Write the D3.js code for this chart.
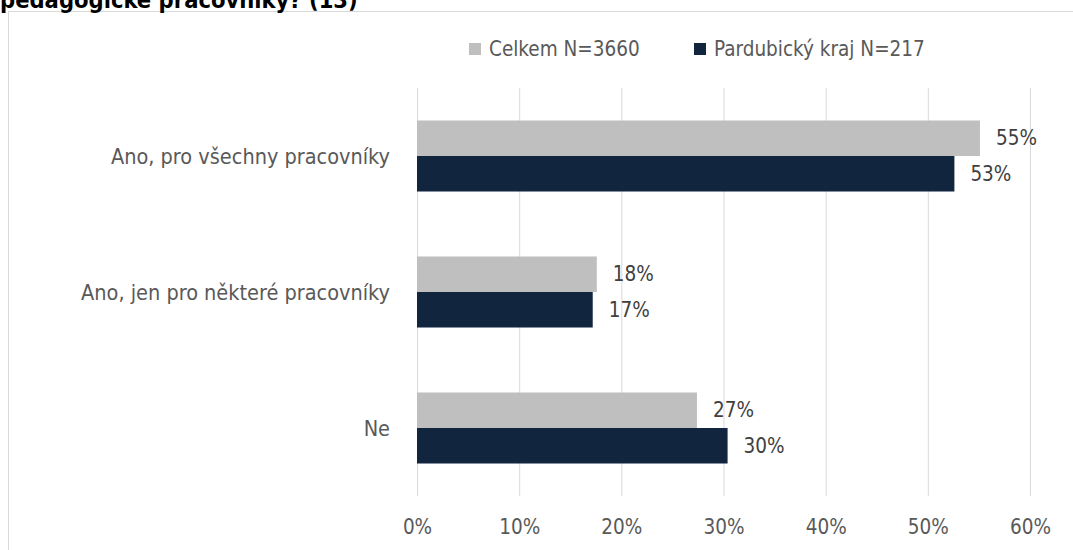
<!DOCTYPE html>
<html><head><meta charset="utf-8">
<script src="https://cdn.jsdelivr.net/npm/d3@7"></script>
<style>body{margin:0;background:#fff;} svg{display:block;}</style>
</head><body><svg id="c" width="1073" height="550"></svg>
<script>
const titleText = "pedagogické pracovníky? (13)";
const categories = ["Ano, pro všechny pracovníky", "Ano, jen pro některé pracovníky", "Ne"];
const seriesNames = ["Celkem N=3660", "Pardubický kraj N=217"];
const celkem = [55.1, 17.6, 27.4];
const pardubicky = [52.6, 17.2, 30.4];
const xTicks = [0, 10, 20, 30, 40, 50, 60];
const colors = ["#bfbfbf", "#12253f"];

const FONT = "'Liberation Sans Narrow','DejaVu Sans Condensed','Open Sans',sans-serif";
const svg = d3.select("#c");
const W = 1073, H = 550;

svg.append("rect").attr("x", 0).attr("y", 0).attr("width", W).attr("height", H).attr("fill", "#fff");
// chart frame
svg.append("rect").attr("x", 8.5).attr("y", 11.5).attr("width", W + 10).attr("height", H + 10)
  .attr("fill", "#fff").attr("stroke", "#d9d9d9").attr("stroke-width", 1);

// title (cut off at top, as in the source)
svg.append("text").attr("x", 0).attr("y", 8).text(titleText)
  .attr("font-family", FONT).attr("font-weight", "bold").attr("font-size", 23.5).attr("fill", "#000");

const x = d3.scaleLinear().domain([0, 60]).range([417, 1030]);
const y0 = d3.scaleBand().domain(categories).range([88, 496]).paddingInner(0).paddingOuter(0);
const y1 = d3.scaleBand().domain(seriesNames).range([0, y0.bandwidth()]).paddingInner(0).paddingOuter(0.915);

// gridlines
svg.append("g").selectAll("line").data(xTicks).join("line")
  .attr("x1", d => x(d) + 0.5).attr("x2", d => x(d) + 0.5)
  .attr("y1", 88).attr("y2", 496)
  .attr("stroke", "#d9d9d9").attr("stroke-width", 1);

// x axis tick labels
const xAxis = d3.axisBottom(x).tickValues(xTicks).tickFormat(d => d + "%").tickSize(0).tickPadding(0);
const gx = svg.append("g").attr("transform", "translate(0,527)").call(xAxis);
gx.select(".domain").remove();
gx.selectAll("text").attr("font-family", FONT).attr("font-size", 20.5).attr("fill", "#595959")
  .attr("dy", "0.35em").attr("y", 0);

// category labels
const yAxis = d3.axisLeft(y0).tickSize(0).tickPadding(0);
const gy = svg.append("g").attr("transform", "translate(390,0)").call(yAxis);
gy.select(".domain").remove();
gy.selectAll("text").attr("font-family", FONT).attr("font-size", 21.5).attr("fill", "#595959").attr("dy", "0.35em");

const rows = categories.map((c, i) => ({ cat: c, vals: [celkem[i], pardubicky[i]] }));
const groups = svg.append("g").selectAll("g").data(rows).join("g")
  .attr("transform", d => `translate(0,${y0(d.cat)})`);

groups.selectAll("rect").data(d => d.vals.map((v, j) => ({ v, s: seriesNames[j], j }))).join("rect")
  .attr("x", x(0)).attr("y", d => y1(d.s)).attr("width", d => x(d.v) - x(0)).attr("height", y1.bandwidth())
  .attr("fill", d => colors[d.j]);

groups.selectAll("text").data(d => d.vals.map((v, j) => ({ v, s: seriesNames[j], j }))).join("text")
  .attr("x", d => x(d.v) + 16).attr("y", d => y1(d.s) + y1.bandwidth() / 2).attr("dy", "0.35em")
  .text(d => Math.round(d.v) + "%")
  .attr("font-family", FONT).attr("font-size", 20.5).attr("fill", "#404040");

// legend
const legendX = [469, 694];
const lg = svg.append("g").selectAll("g").data(seriesNames).join("g")
  .attr("transform", (d, i) => `translate(${legendX[i]},49)`);
lg.append("rect").attr("x", 0).attr("y", -6).attr("width", 12).attr("height", 12).attr("fill", (d, i) => colors[i]);
lg.append("text").attr("x", 20).attr("y", 0).attr("dy", "0.35em").text(d => d)
  .attr("font-family", FONT).attr("font-size", 20.5).attr("fill", "#595959");
</script></body></html>
